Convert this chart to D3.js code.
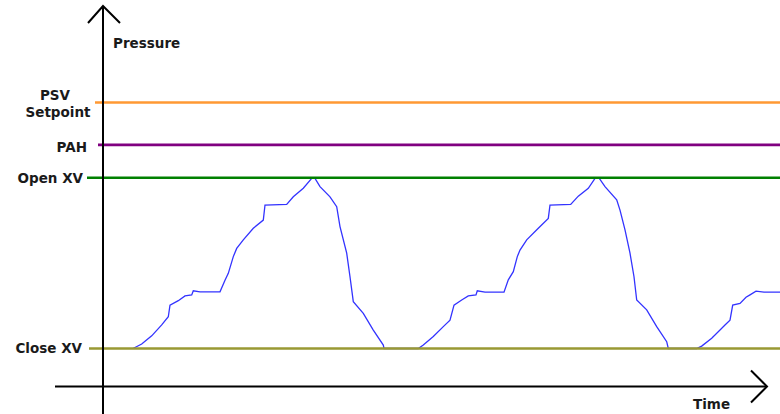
<!DOCTYPE html>
<html>
<head>
<meta charset="utf-8">
<script src="https://cdn.jsdelivr.net/npm/d3@7"></script>
<style>
    body { margin: 0; background: #fff; }
    svg { display: block; }
    text { font-family: "DejaVu Sans", Verdana, sans-serif; font-weight: bold; font-size: 13.5px; fill: #1a1a1a; }
</style>
</head>
<body>
<svg width="780" height="414"></svg>
<script>

// reference levels (pressure units)
var levelNames = ["PSV Setpoint", "PAH", "Open XV", "Close XV"];
var levelValues = [82, 69.6, 60, 10];

// pressure trace
var curveTime = [
    30, 38.7, 48.7, 58.7, 65.3, 67, 75.3, 82, 88.7, 90.3, 97, 117, 122, 125.3, 130.3, 133.7,
    140.3, 150.3, 160.3, 162, 183.7, 190.3, 200.3, 208.7, 212, 217, 227, 233.7, 237, 243.7,
    247, 250.3, 260.3, 270.3, 280.3, 281,
    315.3, 320.3, 330.3, 340.3, 347, 351, 358.7, 365.3, 373, 374.3, 382, 401, 405.3, 410.3,
    414.3, 417, 423.7, 435.3, 445.3, 447, 467.7, 475.3, 485.3, 492, 496.3, 502, 513.7, 517,
    522, 527, 531, 533.7, 543.7, 553.7, 563.7, 565.3,
    593.7, 598.7, 608.7, 617, 622, 627, 629.7, 637, 643, 647, 653, 661, 677
];
var curvePressure = [
    10, 11.3, 13.7, 16.9, 19.3, 22.7, 24, 25.4, 25.7, 26.9, 26.6, 26.6, 30, 32, 36.9, 39.3,
    41.8, 45.2, 47.6, 52, 52.2, 54.4, 56.9, 59.8, 59.8, 57.4, 54.4, 51.5, 45.7, 37.9,
    31, 23.7, 20.3, 15.4, 11, 10,
    10, 11, 13.5, 16.4, 18.3, 22.7, 24.2, 25.4, 25.7, 26.9, 26.5, 26.5, 30.1, 32.5,
    36.9, 38.8, 41.8, 45.2, 48.1, 52, 52.2, 54.6, 56.9, 59.8, 59.8, 57.4, 53.5, 50.5,
    44.7, 37.9, 31, 24.2, 21.3, 16.4, 12, 10,
    10, 10.7, 13, 15.4, 16.9, 18.3, 22.7, 23.2, 25, 25.7, 26.8, 26.5, 26.5
];

var levelColors = ["#ff9933", "#800080", "#008000", "#999933"];

window.onload = function() {
    makeChart();
}

function makeChart() {

    var svg = d3.select("svg");

    // axis origin in pixels
    var originX = 103;
    var originY = 386.5;

    var x = d3.scaleLinear()
        .domain([0, 677])
        .range([originX, 780]);

    var y = d3.scaleLinear()
        .domain([10, 60])
        .range([348.5, 177.7]);

    // pressure trace goes under the level lines
    var line = d3.line()
        .x(function(d, i) { return x(curveTime[i]); })
        .y(function(d) { return y(d); });

    svg.append("path")
        .datum(curvePressure)
        .attr("fill", "none")
        .attr("stroke", "#3333ff")
        .attr("stroke-width", 1.3)
        .attr("d", line);

    // how far each level line pokes left of the y axis
    var stubs = [8, 5, 16, 14];

    svg.selectAll(".level")
        .data(levelValues)
        .enter().append("line")
        .attr("class", "level")
        .attr("x1", function(d, i) { return originX - stubs[i]; })
        .attr("x2", 780)
        .attr("y1", function(d) { return y(d); })
        .attr("y2", function(d) { return y(d); })
        .attr("stroke", function(d, i) { return levelColors[i]; })
        .attr("stroke-width", 2.6);

    // labels: the first one is split in two lines and centred
    svg.append("text")
        .attr("x", 55)
        .attr("y", y(levelValues[0]) - 3)
        .attr("text-anchor", "middle")
        .text(levelNames[0].split(" ")[0]);

    svg.append("text")
        .attr("x", 58)
        .attr("y", y(levelValues[0]) + 14)
        .attr("text-anchor", "middle")
        .text(levelNames[0].split(" ")[1]);

    var labelRight = [0, 87, 83, 82];
    var labelDy = [0, 7, 5, 4.5];

    svg.selectAll(".lvl-label")
        .data(levelNames.slice(1))
        .enter().append("text")
        .attr("class", "lvl-label")
        .attr("text-anchor", "end")
        .attr("x", function(d, i) { return labelRight[i + 1]; })
        .attr("y", function(d, i) { return y(levelValues[i + 1]) + labelDy[i + 1]; })
        .text(function(d) { return d; });

    // axes with open arrow heads
    var axes = svg.append("g")
        .attr("fill", "none")
        .attr("stroke", "#000")
        .attr("stroke-width", 2);

    axes.append("line")
        .attr("x1", originX).attr("x2", originX)
        .attr("y1", 414).attr("y2", 6);

    axes.append("polyline")
        .attr("points", [[originX - 15, 23], [originX, 6], [originX + 17, 23]].join(" "));

    axes.append("line")
        .attr("x1", 55).attr("x2", 767)
        .attr("y1", originY).attr("y2", originY);

    axes.append("polyline")
        .attr("points", [[751, originY - 16], [767, originY], [751, originY + 16]].join(" "));

    svg.append("text")
        .attr("x", 113)
        .attr("y", 47.5)
        .text("Pressure");

    svg.append("text")
        .attr("x", 693)
        .attr("y", 409)
        .text("Time");
}
</script>
</body>
</html>
